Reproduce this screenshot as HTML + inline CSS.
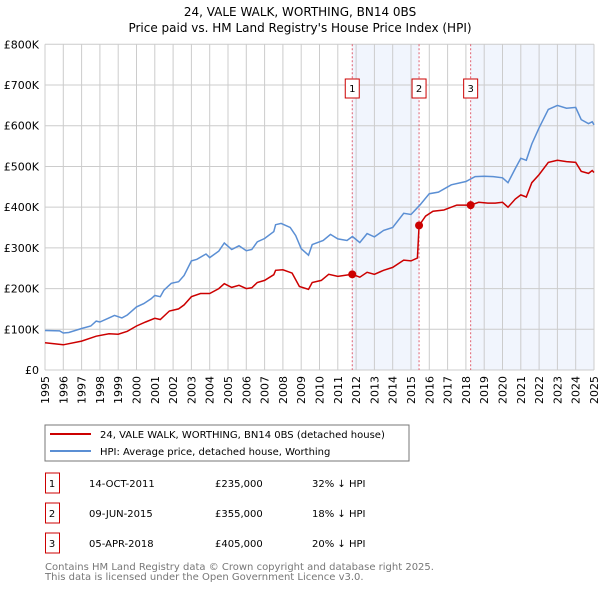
<!DOCTYPE html>
<html><head><meta charset="utf-8"><style>
body{margin:0;background:#fff;font-family:"Liberation Sans","DejaVu Sans",sans-serif;}
svg text{font-family:"DejaVu Sans","Liberation Sans",sans-serif;}
</style></head><body>
<svg width="600" height="590" xmlns="http://www.w3.org/2000/svg">
<text x="300" y="16" text-anchor="middle" font-size="12">24, VALE WALK, WORTHING, BN14 0BS</text>
<text x="300" y="32" text-anchor="middle" font-size="12">Price paid vs. HM Land Registry's House Price Index (HPI)</text>
<g id="plot"></g>
<rect x="45" y="425" width="364" height="36" fill="#fff" stroke="#777"/>
<line x1="50" y1="434" x2="91" y2="434" stroke="#cc0000" stroke-width="2"/>
<text x="100" y="438" font-size="10">24, VALE WALK, WORTHING, BN14 0BS (detached house)</text>
<line x1="50" y1="451" x2="91" y2="451" stroke="#5b8fd4" stroke-width="2"/>
<text x="100" y="455" font-size="10">HPI: Average price, detached house, Worthing</text>
<g id="table" font-size="10"></g>
<text x="45" y="570" font-size="10" fill="#777">Contains HM Land Registry data © Crown copyright and database right 2025.</text>
<text x="45" y="580" font-size="10" fill="#777">This data is licensed under the Open Government Licence v3.0.</text>
</svg>
<script>
const years=[1995,1996,1997,1998,1999,2000,2001,2002,2003,2004,2005,2006,2007,2008,2009,2010,2011,2012,2013,2014,2015,2016,2017,2018,2019,2020,2021,2022,2023,2024,2025];
const yTicks=[0,100,200,300,400,500,600,700,800];
const yTickLabels=["£0","£100K","£200K","£300K","£400K","£500K","£600K","£700K","£800K"];
const hpiT=[1995,1995.8,1996,1996.3,1997,1997.5,1997.8,1998,1998.5,1998.8,1999.2,1999.5,2000,2000.4,2000.8,2001,2001.3,2001.5,2001.9,2002.3,2002.6,2003,2003.3,2003.8,2004,2004.5,2004.8,2005.2,2005.6,2006,2006.3,2006.6,2007,2007.5,2007.6,2007.9,2008.4,2008.7,2009,2009.4,2009.6,2010.2,2010.6,2011,2011.5,2011.8,2012.2,2012.6,2013,2013.5,2014,2014.6,2015,2015.5,2016,2016.5,2017.2,2018,2018.5,2019,2019.5,2020,2020.3,2020.7,2021,2021.3,2021.6,2022,2022.5,2023,2023.5,2024,2024.3,2024.7,2024.9,2025];
const hpiV=[97,96,91,92,102,108,120,118,128,134,128,135,155,163,175,183,180,196,213,217,232,268,272,285,276,292,312,296,305,293,296,315,323,340,357,360,350,330,298,282,308,318,333,322,318,328,313,335,327,343,350,385,382,406,433,437,455,463,475,476,475,472,460,495,520,515,555,595,640,650,643,645,615,605,610,602];
const ppT=[1995,1996,1997,1997.8,1998.5,1999,1999.5,2000,2000.5,2001,2001.3,2001.8,2002.3,2002.6,2003,2003.5,2004,2004.5,2004.8,2005.2,2005.6,2006,2006.3,2006.6,2007,2007.5,2007.6,2008,2008.5,2008.9,2009.4,2009.6,2010.1,2010.5,2011,2011.79,2012.2,2012.6,2013,2013.5,2014,2014.6,2015,2015.35,2015.44,2015.8,2016.2,2016.8,2017.5,2018.26,2018.7,2019.2,2019.6,2020,2020.3,2020.7,2021,2021.3,2021.6,2022,2022.5,2023,2023.5,2024,2024.3,2024.7,2024.9,2025];
const ppV=[67,62,71,83,89,88,95,108,118,127,124,145,150,160,180,188,188,200,212,203,208,200,202,215,220,234,245,246,238,205,198,215,220,235,230,235,228,240,235,245,252,270,268,275,355,378,390,393,405,405,412,410,410,412,400,420,430,425,460,480,510,515,512,510,488,483,490,485];
const saleT=[2011.79,2015.44,2018.26];
const saleV=[235,355,405];
const saleLabels=["1","2","3"];
const saleDates=["14-OCT-2011","09-JUN-2015","05-APR-2018"];
const salePrices=["£235,000","£355,000","£405,000"];
const saleDiffs=["32% ↓ HPI","18% ↓ HPI","20% ↓ HPI"];

const NS="http://www.w3.org/2000/svg";
const X0=45,X1=594,Y0=370,Y1=44.3;
const xs=t=>X0+(t-1995)/30*(X1-X0);
const ys=v=>Y0-v/800*(Y0-Y1);
function mk(tag,attrs,parent){const e=document.createElementNS(NS,tag);for(const k in attrs)e.setAttribute(k,attrs[k]);parent.appendChild(e);return e;}
const g=document.getElementById('plot');
let r=mk('rect',{x:xs(saleT[0]),y:Y1,width:xs(saleT[1])-xs(saleT[0]),height:Y0-Y1,fill:'#eef3fc',opacity:0.8},g);


r=mk('rect',{x:xs(saleT[2]),y:Y1,width:X1-xs(saleT[2]),height:Y0-Y1,fill:'#eef3fc',opacity:0.8},g);


years.forEach(y=>{
 const l=mk('line',{x1:xs(y),x2:xs(y),y1:Y1,y2:Y0,stroke:'#ccc','stroke-width':1},g);
 
 
 const t=mk('text',{transform:`translate(${xs(y)+4},376) rotate(-90)`,'text-anchor':'end','font-size':11},g);
 t.textContent=y;
 
 
});
yTicks.forEach((v,i)=>{
 const l=mk('line',{x1:X0,x2:X1,y1:ys(v),y2:ys(v),stroke:'#ccc','stroke-width':1},g);
 
 
 const t=mk('text',{x:39,y:ys(v)+4,'text-anchor':'end','font-size':11},g);
 t.textContent=yTickLabels[i];
 
 
});
saleT.forEach((s,i)=>{
 const l=mk('line',{x1:xs(s),x2:xs(s),y1:Y1,y2:Y0,stroke:'#e06070','stroke-width':1,'stroke-dasharray':'2,2'},g);
 
 
 const b=mk('rect',{x:xs(s)-7,y:79,width:14,height:19,fill:'#fff',stroke:'#cc0000'},g);
 
 
 const t=mk('text',{x:xs(s),y:92,'text-anchor':'middle','font-size':10},g);
 t.textContent=saleLabels[i];
 
 
});
function path(T,V,c,name){const d=T.map((t,i)=>(i?'L':'M')+xs(t).toFixed(1)+','+ys(V[i]).toFixed(1)).join('');
 const p=mk('path',{d:d,fill:'none',stroke:c,'stroke-width':1.5},g);
 
 }
path(hpiT,hpiV,'#5b8fd4','hpi-line');
path(ppT,ppV,'#cc0000','price-paid-line');
saleT.forEach((s,i)=>{
 const c=mk('circle',{cx:xs(s),cy:ys(saleV[i]),r:4,fill:'#cc0000'},g);
 
 
});
const tb=document.getElementById('table');
saleT.forEach((s,i)=>{
 const y=483+i*30;
 const b=mk('rect',{x:45.5,y:y-10,width:14,height:20,fill:'#fff',stroke:'#cc0000'},tb);
 
 
 const cells=[[52,saleLabels[i],'middle'],[89,saleDates[i],'start'],[215,salePrices[i],'start'],[312,saleDiffs[i],'start']];
 cells.forEach(([x,txt,a],j)=>{
  const t=mk('text',{x:x,y:y+4,'text-anchor':a},tb);
  t.textContent=txt;
  
  
 });
});
</script>
</body></html>
